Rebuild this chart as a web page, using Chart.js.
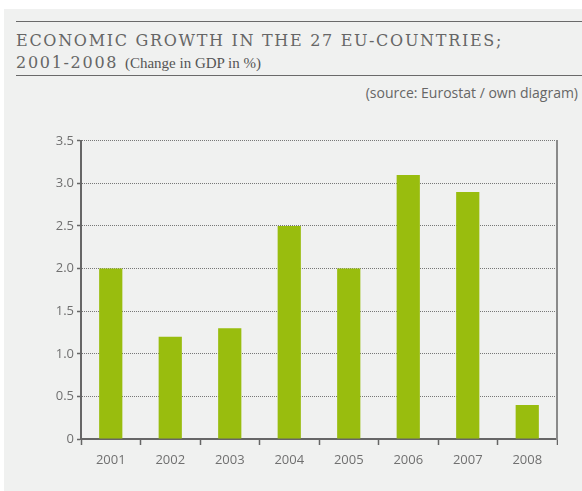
<!DOCTYPE html>
<html>
<head>
<meta charset="utf-8">
<script src="https://cdn.jsdelivr.net/npm/chart.js@4/dist/chart.umd.min.js"></script>
<style>
  html, body { margin: 0; padding: 0; background: #fff; }
  body { width: 582px; height: 491px; position: relative; overflow: hidden; }
  .panel { position: absolute; left: 4px; top: 9px; right: 0; bottom: 0; background: #f0f1f0; }
  .rule { position: absolute; left: 16px; right: 0; height: 1px; background: #6a6a6a; }
  .title { position: absolute; left: 16px; top: 30px; font-family: "DejaVu Serif", "Liberation Serif", serif;
           color: #666; font-size: 16px; letter-spacing: 1.7px; line-height: 22px; }
  .title small { font-size: 15px; letter-spacing: 0; color: #555; font-family: "Liberation Serif", serif; }
  .source { position: absolute; right: 4px; top: 83px; font-family: "Open Sans", sans-serif; font-size: 14px; color: #666; }
  #wrap { position: absolute; left: 40px; top: 130px; width: 518px; height: 350px; }
</style>
</head>
<body>
<div class="panel"></div>
<div class="rule" style="top:21px"></div>
<div class="title">ECONOMIC GROWTH IN THE 27 EU-COUNTRIES;<br>2001-2008 <small>(Change in GDP in %)</small></div>
<div class="rule" style="top:75px"></div>
<div class="source">(source: Eurostat / own diagram)</div>
<div id="wrap"><canvas id="chart"></canvas></div>
<script>
// Chart data
const years = ['2001', '2002', '2003', '2004', '2005', '2006', '2007', '2008'];
const gdpGrowth = [2.0, 1.2, 1.3, 2.5, 2.0, 3.1, 2.9, 0.4];
const yTickValues = [0, 0.5, 1.0, 1.5, 2.0, 2.5, 3.0, 3.5];
const yTickLabels = ['0', '0.5', '1.0', '1.5', '2.0', '2.5', '3.0', '3.5'];

const barColor = '#99bd0e';
const textColor = '#707070';
const axisColor = '#666';

new Chart(document.getElementById('chart').getContext('2d'), {
    type: 'bar',
    data: {
        labels: years,
        datasets: [{
            data: gdpGrowth,
            backgroundColor: barColor,
            barPercentage: 0.39,
            categoryPercentage: 1.0
        }]
    },
    options: {
        responsive: true,
        maintainAspectRatio: false,
        animation: false,
        layout: {
            padding: { top: 4, right: 0, left: 0, bottom: 0 }
        },
        plugins: {
            legend: { display: false },
            tooltip: { enabled: false }
        },
        scales: {
            x: {
                grid: {
                    offset: true,
                    drawOnChartArea: false,
                    drawTicks: true,
                    tickLength: 6,
                    tickColor: axisColor,
                    tickWidth: 1.5
                },
                border: { color: axisColor, width: 2 },
                ticks: {
                    color: textColor,
                    font: { family: 'Open Sans', size: 13 },
                    padding: 7
                },
                afterFit: function(scale) { scale.height = 41; }
            },
            y: {
                min: 0,
                max: 3.5,
                afterBuildTicks: function(scale) {
                    scale.ticks = yTickValues.map(v => ({ value: v }));
                },
                grid: {
                    color: '#777',
                    lineWidth: 1,
                    tickLength: 4,
                    tickColor: axisColor,
                    tickWidth: 1.5,
                    tickBorderDash: []
                },
                border: { color: axisColor, width: 2, dash: [1, 1] },
                ticks: {
                    color: textColor,
                    font: { family: 'Open Sans', size: 13 },
                    padding: 3,
                    callback: function(value, index) {
                        return yTickLabels[index];
                    }
                },
                afterFit: function(scale) { scale.width = 41; }
            },
            yRight: {
                position: 'right',
                min: 0,
                max: 3.5,
                grid: { display: false },
                ticks: { display: false },
                border: { color: '#8a8a8a', width: 2 },
                afterFit: function(scale) { scale.width = 1; }
            }
        }
    }
});
</script>
</body>
</html>
